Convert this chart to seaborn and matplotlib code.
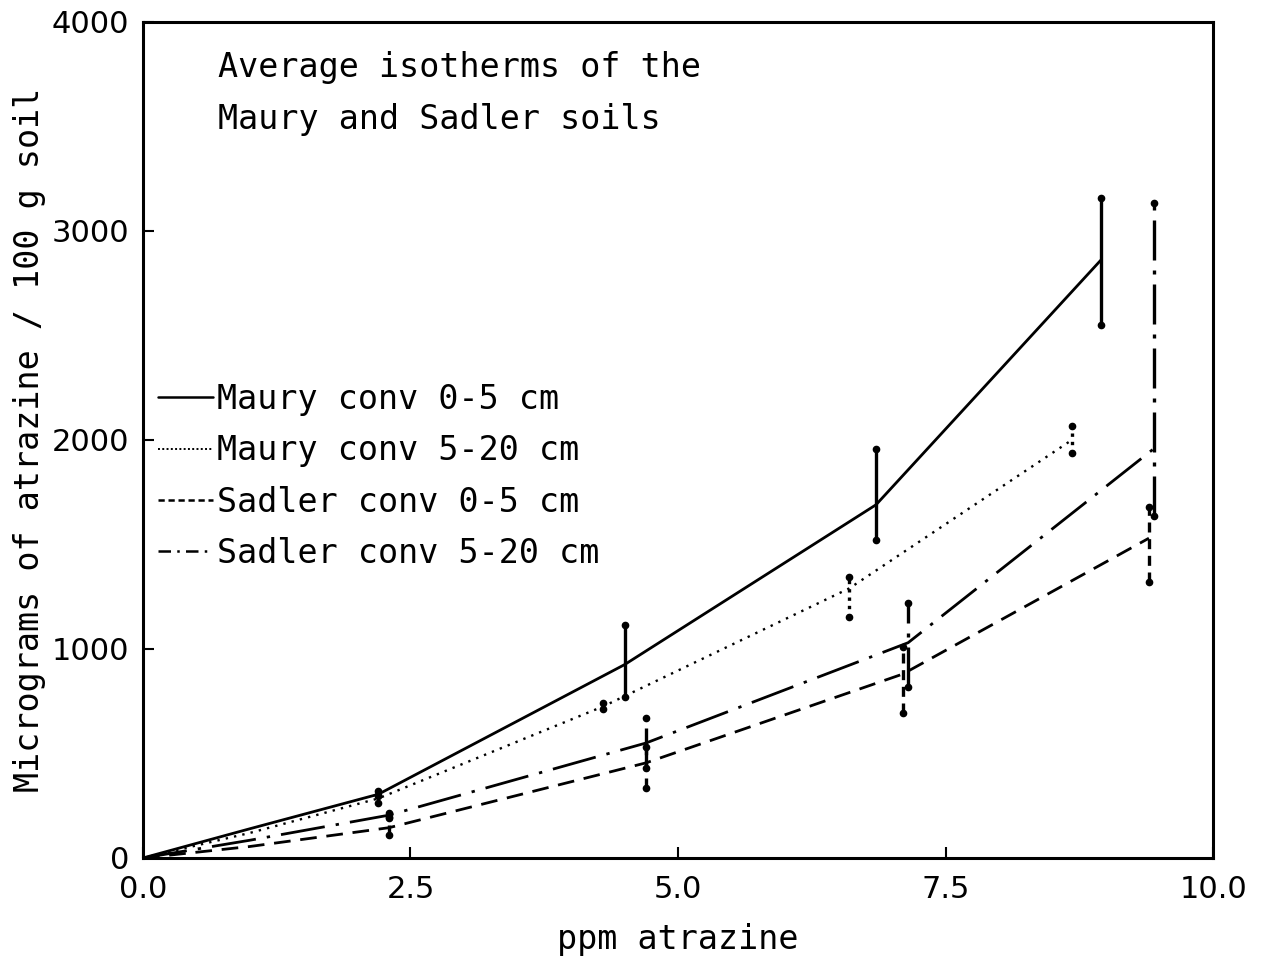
import matplotlib
matplotlib.use("Agg")
import matplotlib.pyplot as plt
from matplotlib.lines import Line2D
import pandas as pd
import seaborn as sns

# Average isotherm data (ppm atrazine vs. micrograms atrazine / 100 g soil)
maury_0_5_x = [0.0, 1.0, 2.2, 4.5, 6.85, 8.95]
maury_0_5_y = [0, 140, 305, 925, 1690, 2860]
maury_0_5_lo = [None, None, 295, 770, 1520, 2550]
maury_0_5_hi = [None, None, 320, 1115, 1955, 3160]

maury_5_20_x = [0.0, 1.0, 2.2, 4.3, 6.6, 8.68]
maury_5_20_y = [0, 120, 285, 725, 1290, 2000]
maury_5_20_lo = [None, None, 265, 715, 1155, 1940]
maury_5_20_hi = [None, None, 300, 740, 1345, 2065]

sadler_0_5_x = [0.0, 1.0, 2.3, 4.7, 7.1, 9.4]
sadler_0_5_y = [0, 55, 145, 455, 880, 1530]
sadler_0_5_lo = [None, None, 110, 335, 695, 1320]
sadler_0_5_hi = [None, None, 190, 530, 1010, 1680]

sadler_5_20_x = [0.0, 1.0, 2.3, 4.7, 7.15, 9.45]
sadler_5_20_y = [0, 85, 205, 550, 1030, 1960]
sadler_5_20_lo = [None, None, 195, 430, 820, 1635]
sadler_5_20_hi = [None, None, 215, 670, 1220, 3135]

series_names = ["Maury conv 0-5 cm", "Maury conv 5-20 cm",
                "Sadler conv 0-5 cm", "Sadler conv 5-20 cm"]
x_ticks = [0.0, 2.5, 5.0, 7.5, 10.0]
y_ticks = [0, 1000, 2000, 3000, 4000]

sns.set_theme(style="white")
plt.rcParams["font.family"] = ["DejaVu Sans"]
plt.rcParams["text.color"] = "black"
plt.rcParams["axes.labelcolor"] = "black"
plt.rcParams["xtick.color"] = "black"
plt.rcParams["ytick.color"] = "black"

TICK_FS = 22
TXT_FS = 24
MONO = "DejaVu Sans Mono"

fig = plt.figure(figsize=(12.65, 9.58), dpi=100)
ax = fig.add_axes([0.113, 0.1044, 0.846, 0.8727])

styles = [
    dict(linestyle="-", lw=2.0),
    dict(linestyle=(0, (1.0, 2.6)), lw=1.7),
    dict(linestyle=(0, (6, 3.5)), lw=2.0),
    dict(linestyle=(0, (16, 4, 1.2, 4)), lw=2.0),
]
legend_styles = [
    dict(linestyle="-", lw=1.8),
    dict(linestyle=(0, (1.0, 1.2)), lw=1.4),
    dict(linestyle=(0, (2.5, 1.5)), lw=1.8),
    dict(linestyle=(0, (5, 2.5, 1, 2.5)), lw=1.8),
]
bar_styles = ["-", (0, (1.0, 1.5)), (0, (3, 2)), (0, (12, 3, 1.2, 3))]
data = [
    (maury_0_5_x, maury_0_5_y, maury_0_5_lo, maury_0_5_hi),
    (maury_5_20_x, maury_5_20_y, maury_5_20_lo, maury_5_20_hi),
    (sadler_0_5_x, sadler_0_5_y, sadler_0_5_lo, sadler_0_5_hi),
    (sadler_5_20_x, sadler_5_20_y, sadler_5_20_lo, sadler_5_20_hi),
]

for name, (xs, ys, lo, hi), st, bst in zip(series_names, data, styles, bar_styles):
    df = pd.DataFrame({"ppm": xs, "ug": ys})
    sns.lineplot(data=df, x="ppm", y="ug", ax=ax, color="black",
                 sort=False, legend=False, **st)
    # vertical range bars with dot caps
    for xv, l, h in zip(xs, lo, hi):
        if l is None:
            continue
        ax.plot([xv, xv], [l, h], color="black", lw=2.4, linestyle=bst)
        ax.plot([xv, xv], [l, h], "o", color="black", ms=4.5)

ax.set_xlim(0, 10)
ax.set_ylim(0, 4000)
ax.set_xticks(x_ticks)
ax.set_xticklabels([f"{t:.1f}" for t in x_ticks], fontsize=TICK_FS)
ax.set_yticks(y_ticks)
ax.set_yticklabels([str(t) for t in y_ticks], fontsize=TICK_FS)
ax.tick_params(axis="x", direction="in", length=8, width=1.5, pad=12)
ax.tick_params(axis="y", direction="in", length=8, width=1.5, pad=10)
ax.tick_params(top=False, right=False, bottom=True, left=True)
for sp in ax.spines.values():
    sp.set_linewidth(2.2)
    sp.set_color("black")
ax.set_xlabel("ppm atrazine", fontsize=TXT_FS, family=MONO, labelpad=14)
ax.set_ylabel("Micrograms of atrazine / 100 g soil", fontsize=TXT_FS,
              family=MONO, labelpad=4)

ax.text(0.070, 0.945, "Average isotherms of the", transform=ax.transAxes,
        fontsize=TXT_FS, family=MONO, va="center", ha="left")
ax.text(0.070, 0.883, "Maury and Sadler soils", transform=ax.transAxes,
        fontsize=TXT_FS, family=MONO, va="center", ha="left")

handles = [Line2D([], [], color="black", **st) for st in legend_styles]
ax.legend(handles, series_names, loc="upper left",
          bbox_to_anchor=(0.002, 0.584), frameon=False,
          prop={"family": MONO, "size": TXT_FS},
          handlelength=1.65, handletextpad=0.1, labelspacing=0.55,
          borderaxespad=0)

fig.savefig("out.png", dpi=100, facecolor="white")
